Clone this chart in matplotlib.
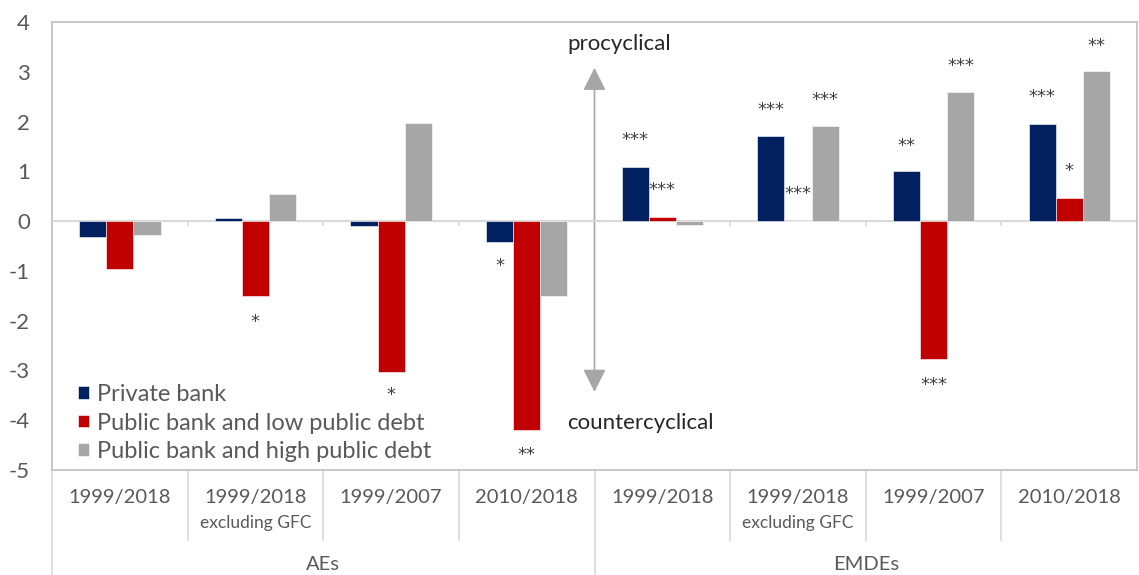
import numpy as np
import matplotlib
matplotlib.use("Agg")
import matplotlib.pyplot as plt

plt.rcParams['font.family'] = ['Lato', 'DejaVu Sans']
plt.rcParams['axes.unicode_minus'] = False

# data
periods = ['1999/2018', '1999/2018', '1999/2007', '2010/2018',
           '1999/2018', '1999/2018', '1999/2007', '2010/2018']
subtitles = ['', 'excluding GFC', '', '', '', 'excluding GFC', '', '']
groups = ['AEs', 'EMDEs']
series = ['Private bank', 'Public bank and low public debt', 'Public bank and high public debt']
private = [-0.31, 0.07, -0.09, -0.41, 1.09, 1.71, 1.01, 1.96]
low_debt = [-0.97, -1.51, -3.03, -4.20, 0.09, 0.0, -2.78, 0.47]
high_debt = [-0.28, 0.54, 1.97, -1.51, -0.08, 1.92, 2.59, 3.02]
colors = ['#002060', '#C00000', '#A6A6A6']

# significance stars: (category, series index, y, label)
stars = [(1, 1, -1.96, '*'), (2, 1, -3.44, '*'),
         (3, 0, -0.85, '*'), (3, 1, -4.64, '**'),
         (4, 0, 1.69, '***'), (4, 1, 0.69, '***'),
         (5, 0, 2.29, '***'), (5, 1, 0.60, '***'), (5, 2, 2.50, '***'),
         (6, 0, 1.57, '**'), (6, 1, -3.23, '***'), (6, 2, 3.17, '***'),
         (7, 0, 2.56, '***'), (7, 1, 1.07, '*'), (7, 2, 3.58, '**')]

fig = plt.figure(figsize=(11.39, 5.75), dpi=100)
ax = fig.add_axes([52/1139, 1-470/575, (1137-52)/1139, (470-22)/575])

x = np.arange(len(periods))
w = 0.2
for i, vals in enumerate([private, low_debt, high_debt]):
    ax.bar(x + (i-1)*w, vals, width=w, color=colors[i], label=series[i],
           edgecolor='white', linewidth=0.4, zorder=3)

ax.set_xlim(-0.5, 7.5)
ax.set_ylim(-5, 4)
ax.set_yticks(range(-5, 5))
ax.set_yticklabels([str(v) for v in range(-5, 5)], fontsize=16, color='#595959')
ax.tick_params(axis='y', length=0, pad=16)
ax.set_xticks([])
for s in ax.spines.values():
    s.set_color('#BFBFBF')
    s.set_linewidth(1.2)

ax.axhline(0, color='#D9D9D9', lw=1.5, zorder=2)
ax.vlines([0.5, 1.5, 2.5, 4.5, 5.5, 6.5], -0.1, 0, color='#D9D9D9', lw=1.2, zorder=2)

for c, si, y, lab in stars:
    ax.text(c + (si-1)*w, y - 0.06, lab, ha='center', va='center', fontsize=13,
            family='DejaVu Sans', color='#404040', zorder=4)

# procyclical / countercyclical arrow
ax.annotate('', xy=(3.5, 3.08), xytext=(3.5, -3.43),
            arrowprops=dict(arrowstyle='<|-|>,head_length=0.7,head_width=0.35',
                            color='#A6A6A6', lw=1.2, mutation_scale=20,
                            shrinkA=0, shrinkB=0), zorder=1)
ax.text(3.3, 3.55, 'procyclical', fontsize=16, color='#262626', va='center', ha='left')
ax.text(3.3, -4.05, 'countercyclical', fontsize=16, color='#262626', va='center', ha='left')

leg = ax.legend(loc='upper left', bbox_to_anchor=(78/1139, 1-384/575),
                bbox_transform=fig.transFigure, frameon=False, fontsize=17,
                handlelength=0.45, handleheight=0.45, handletextpad=0.35,
                labelspacing=0.32, borderpad=0, borderaxespad=0)
for t in leg.get_texts():
    t.set_color('#595959')

# multi-level category axis
trans = ax.get_xaxis_transform()
line_kw = dict(color='#D9D9D9', lw=1.2, transform=trans, clip_on=False)
for b in [0.5, 1.5, 2.5, 4.5, 5.5, 6.5]:
    ax.plot([b, b], [0, -70/448], **line_kw)
for b in [-0.5, 3.5]:
    ax.plot([b, b], [0, -105/448], **line_kw)
for i in x:
    ax.text(i, -27/448, periods[i], transform=trans, ha='center', va='center',
            fontsize=14.5, color='#595959')
    if subtitles[i]:
        ax.text(i, -53/448, subtitles[i], transform=trans, ha='center', va='center',
                fontsize=12.5, color='#595959')
for g, gx in zip(groups, [1.5, 5.5]):
    ax.text(gx, -95/448, g, transform=trans, ha='center', va='center',
            fontsize=14.5, color='#595959')

fig.savefig('out.png', dpi=100)
